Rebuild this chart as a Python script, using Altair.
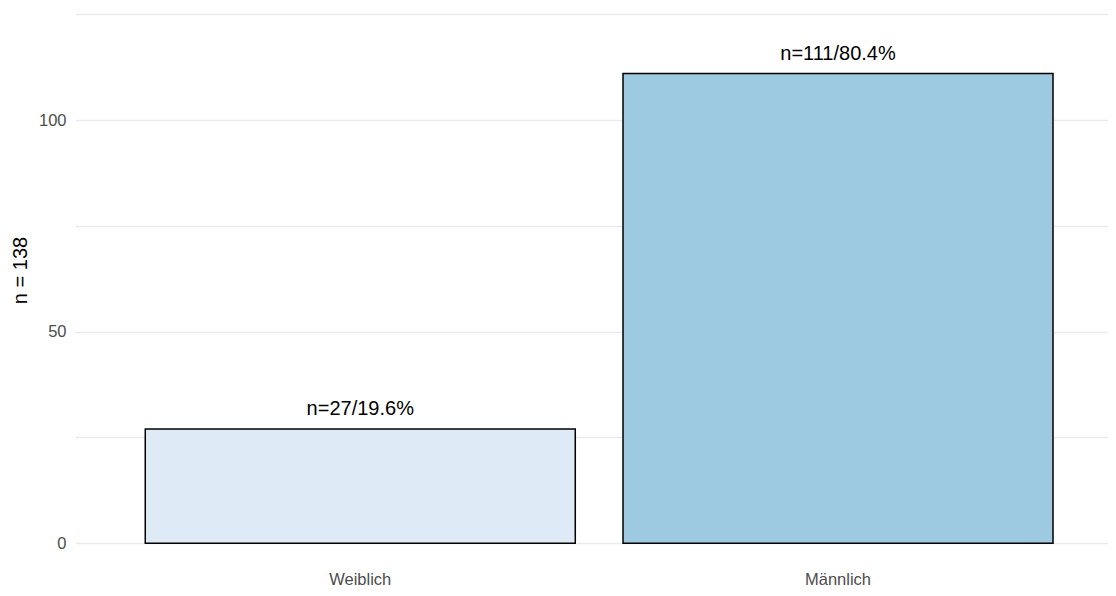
import altair as alt
import pandas as pd

categories = ["Weiblich", "Männlich"]
counts = [27, 111]
labels = ["n=27/19.6%", "n=111/80.4%"]
colors = ["#deebf7", "#9ecae1"]

df = pd.DataFrame({"cat": categories, "n": counts, "label": labels})

FONT = "Liberation Sans"

x = alt.X(
    "cat:N",
    sort=categories,
    title=None,
    scale=alt.Scale(paddingInner=0.0999, paddingOuter=0.1311, align=0.561),
    axis=alt.Axis(
        labelFont=FONT, labelFontSize=16.5, labelColor="#4d4d4d",
        labelAngle=0, ticks=False, domain=False, grid=False, labelPadding=13,
    ),
)
y = alt.Y(
    "n:Q",
    title="n = 138",
    scale=alt.Scale(domain=[-3.5, 126.5], nice=False, zero=False),
    axis=alt.Axis(
        values=[0, 25, 50, 75, 100, 125],
        labelExpr="datum.value % 50 == 0 ? datum.label : ''",
        labelFont=FONT, labelFontSize=16.5, labelColor="#4d4d4d",
        ticks=False, domain=False, grid=True, gridColor="#ebebeb", gridWidth=1.3,
        labelPadding=9, titleFont=FONT, titleFontSize=20, titleColor="#000000",
        titleFontWeight="normal", titlePadding=8, titleY=262,
    ),
)

bars = alt.Chart(df).mark_bar(stroke="black", strokeWidth=1.5).encode(
    x=x,
    y=y,
    y2=alt.datum(0),
    color=alt.Color("cat:N", sort=categories,
                    scale=alt.Scale(domain=categories, range=colors), legend=None),
)

text = alt.Chart(df).mark_text(
    font=FONT, fontSize=20, color="black", baseline="bottom", dy=-10
).encode(x=alt.X("cat:N", sort=categories), y="n:Q", text="label:N")

chart = (bars + text).properties(
    width=1033, height=550,
    background="white",
    autosize=alt.AutoSizeParams(type="none"),
    padding={"left": 67, "top": 0, "right": 0, "bottom": 30},
).configure_view(stroke=None)

chart.save("out.html", embed_options={"renderer": "svg", "actions": False})
